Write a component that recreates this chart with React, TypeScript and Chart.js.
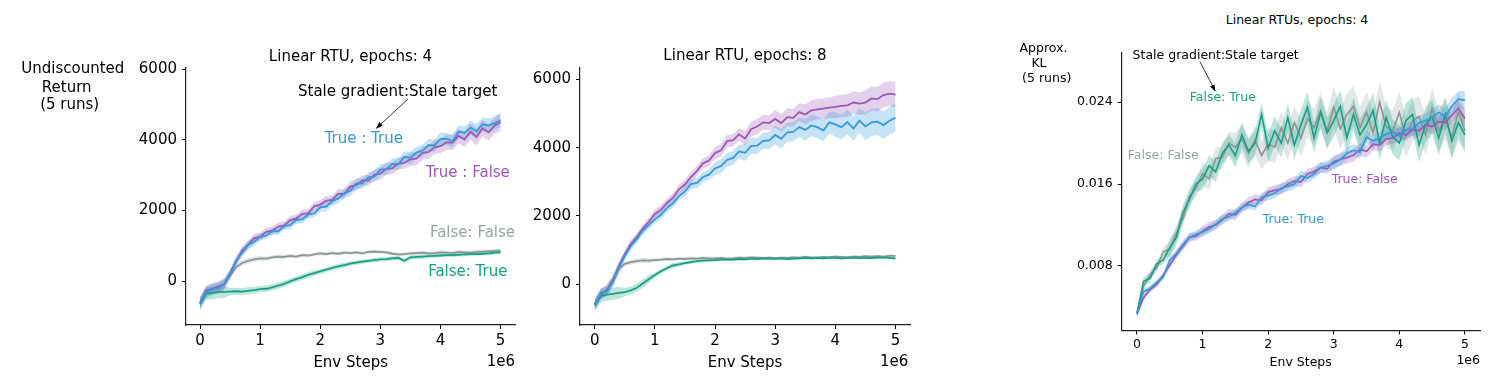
import React, { useEffect, useRef } from "react";
import { Chart, registerables } from "chart.js";
Chart.register(...registerables);

// x positions in millions of env steps
const STEPS_M = [0, 0.1, 0.2, 0.3, 0.4, 0.5, 0.6, 0.7, 0.8, 0.9, 1.0, 1.1, 1.2, 1.3, 1.4, 1.5, 1.6, 1.7, 1.8, 1.9, 2.0, 2.1, 2.2, 2.3, 2.4, 2.5, 2.6, 2.7, 2.8, 2.9, 3.0, 3.1, 3.2, 3.3, 3.4, 3.5, 3.6, 3.7, 3.8, 3.9, 4.0, 4.1, 4.2, 4.3, 4.4, 4.5, 4.6, 4.7, 4.8, 4.9, 5.0];
const X_TICKS = [0, 1, 2, 3, 4, 5];

// ---- Panel 1: Linear RTU, epochs: 4 (undiscounted return)
const P1_TT = [-600, -320, -200, -200, -60, 180, 580, 800, 1030, 1120, 1260, 1290, 1420, 1410, 1560, 1590, 1740, 1750, 1890, 1920, 2090, 2110, 2270, 2340, 2490, 2560, 2760, 2770, 2940, 2960, 3160, 3170, 3320, 3310, 3520, 3490, 3640, 3690, 3850, 3840, 4020, 4030, 3960, 4230, 4200, 4340, 4240, 4440, 4400, 4470, 4560];
const P1_TF = [-620, -260, -220, -150, -80, 240, 560, 870, 1030, 1220, 1260, 1400, 1430, 1550, 1580, 1730, 1770, 1910, 1920, 2120, 2170, 2280, 2300, 2480, 2470, 2680, 2720, 2850, 2850, 3010, 3050, 3180, 3200, 3330, 3350, 3450, 3470, 3630, 3650, 3790, 3820, 3930, 3920, 4110, 4010, 4230, 4080, 4330, 4210, 4400, 4500];
const P1_FF = [-620, -350, -250, -200, -100, 150, 400, 520, 580, 620, 650, 640, 680, 700, 690, 720, 700, 740, 730, 760, 790, 770, 800, 780, 810, 800, 820, 790, 830, 840, 830, 820, 780, 760, 770, 790, 800, 810, 790, 800, 820, 810, 800, 830, 820, 810, 830, 840, 850, 860, 870];
const P1_FT = [-640, -350, -330, -300, -300, -290, -280, -290, -270, -250, -220, -210, -170, -120, -70, 0, 60, 120, 180, 230, 280, 330, 380, 420, 460, 500, 530, 560, 580, 600, 620, 630, 650, 660, 580, 680, 690, 700, 710, 720, 730, 740, 740, 750, 760, 770, 770, 780, 790, 810, 820];
const P1_TT_SD = [150, 120, 100, 110, 130, 150, 160, 170, 180, 200, 200];
const P1_TF_SD = [150, 120, 110, 120, 130, 150, 170, 190, 210, 230, 250];
const P1_FF_SD = [150, 80, 60, 50, 50, 50, 50, 50, 50, 50, 50];
const P1_FT_SD = [180, 100, 90, 80, 70, 60, 60, 60, 50, 50, 50];
const P1_Y_TICKS = [0, 2000, 4000, 6000];

// ---- Panel 2: Linear RTU, epochs: 8
const P2_TF = [-600, -300, -180, 80, 520, 880, 1180, 1380, 1630, 1830, 2060, 2180, 2380, 2530, 2780, 2920, 3140, 3320, 3540, 3620, 3840, 3920, 4190, 4220, 4390, 4270, 4540, 4620, 4740, 4720, 4840, 4720, 4890, 4870, 5040, 4970, 5090, 5120, 5140, 5170, 5190, 5220, 5240, 5320, 5290, 5320, 5440, 5420, 5540, 5580, 5550];
const P2_TT = [-600, -260, -210, 60, 470, 830, 1120, 1330, 1570, 1730, 1900, 2030, 2230, 2370, 2580, 2720, 2930, 2970, 3140, 3210, 3390, 3460, 3640, 3700, 3890, 3850, 4050, 4060, 4200, 4210, 4370, 4260, 4450, 4460, 4600, 4520, 4650, 4600, 4500, 4740, 4680, 4600, 4750, 4560, 4790, 4620, 4740, 4760, 4660, 4790, 4880];
const P2_FF = [-600, -300, -150, 150, 450, 600, 650, 680, 700, 690, 710, 720, 740, 730, 750, 740, 760, 750, 770, 760, 760, 770, 750, 760, 780, 770, 790, 780, 770, 780, 760, 780, 770, 790, 780, 800, 790, 780, 800, 790, 810, 800, 790, 810, 800, 820, 810, 820, 810, 830, 830];
const P2_FT = [-620, -350, -300, -280, -250, -230, -180, -100, 20, 150, 270, 380, 470, 550, 580, 620, 650, 680, 690, 700, 710, 720, 730, 720, 740, 730, 750, 740, 760, 750, 750, 760, 740, 750, 760, 770, 760, 770, 760, 780, 770, 760, 770, 780, 770, 780, 770, 780, 790, 770, 760];
const P2_TF_SD = [150, 120, 130, 150, 180, 220, 260, 300, 330, 360, 380];
const P2_TT_SD = [150, 120, 130, 150, 200, 240, 280, 320, 360, 400, 420];
const P2_FF_SD = [150, 70, 50, 50, 40, 40, 40, 40, 40, 40, 40];
const P2_FT_SD = [180, 120, 70, 50, 40, 40, 40, 40, 40, 40, 40];
const P2_Y_TICKS = [0, 2000, 4000, 6000];

// ---- Panel 3: Linear RTUs, epochs: 4 (approx. KL)
const P3_FT = [0.0034, 0.0065, 0.0068, 0.0082, 0.0086, 0.0098, 0.0108, 0.0132, 0.0145, 0.0160, 0.0165, 0.0178, 0.0172, 0.0190, 0.0198, 0.0188, 0.0208, 0.0192, 0.0200, 0.0228, 0.0195, 0.0212, 0.0200, 0.0225, 0.0198, 0.0218, 0.0235, 0.0205, 0.0230, 0.0210, 0.0222, 0.0236, 0.0205, 0.0228, 0.0208, 0.0218, 0.0232, 0.0200, 0.0225, 0.0206, 0.0200, 0.0222, 0.0228, 0.0198, 0.0218, 0.0226, 0.0205, 0.0228, 0.0202, 0.0220, 0.0208];
const P3_FF = [0.0034, 0.0060, 0.0072, 0.0078, 0.0094, 0.0096, 0.0112, 0.0126, 0.0148, 0.0156, 0.0170, 0.0165, 0.0185, 0.0186, 0.0200, 0.0196, 0.0204, 0.0190, 0.0203, 0.0188, 0.0199, 0.0196, 0.0215, 0.0200, 0.0220, 0.0205, 0.0224, 0.0215, 0.0232, 0.0212, 0.0235, 0.0214, 0.0228, 0.0236, 0.0215, 0.0230, 0.0210, 0.0240, 0.0216, 0.0212, 0.0230, 0.0206, 0.0222, 0.0226, 0.0208, 0.0234, 0.0212, 0.0224, 0.0206, 0.0230, 0.0212];
const P3_TT = [0.0033, 0.0055, 0.0058, 0.0064, 0.0069, 0.0086, 0.0092, 0.0101, 0.0108, 0.0111, 0.0113, 0.0116, 0.0121, 0.0126, 0.0128, 0.0132, 0.0137, 0.0140, 0.0138, 0.0147, 0.0149, 0.0151, 0.0156, 0.0158, 0.0160, 0.0168, 0.0166, 0.0170, 0.0176, 0.0178, 0.0180, 0.0184, 0.0190, 0.0193, 0.0191, 0.0206, 0.0202, 0.0205, 0.0209, 0.0211, 0.0207, 0.0213, 0.0214, 0.0220, 0.0222, 0.0225, 0.0230, 0.0226, 0.0236, 0.0243, 0.0242];
const P3_TF = [0.0033, 0.0049, 0.0057, 0.0062, 0.0071, 0.0081, 0.0091, 0.0099, 0.0108, 0.0109, 0.0114, 0.0118, 0.0120, 0.0125, 0.0131, 0.0130, 0.0137, 0.0142, 0.0145, 0.0144, 0.0152, 0.0154, 0.0155, 0.0160, 0.0163, 0.0162, 0.0170, 0.0172, 0.0176, 0.0175, 0.0182, 0.0184, 0.0186, 0.0188, 0.0194, 0.0192, 0.0199, 0.0198, 0.0204, 0.0205, 0.0210, 0.0208, 0.0213, 0.0212, 0.0218, 0.0216, 0.0221, 0.0220, 0.0227, 0.0234, 0.0224];
const P3_TT_SD = [0.0003, 0.0004, 0.0004, 0.0004, 0.0005, 0.0005, 0.0006, 0.0006, 0.0007, 0.0008, 0.0009];
const P3_TF_SD = [0.0003, 0.0004, 0.0005, 0.0005, 0.0005, 0.0005, 0.0006, 0.0006, 0.0006, 0.0007, 0.0008];
const P3_FF_SD = [0.0004, 0.0008, 0.0011, 0.0014, 0.0016, 0.0018, 0.0020, 0.0020, 0.0020, 0.0020, 0.0020];
const P3_FT_SD = [0.0004, 0.0008, 0.0010, 0.0012, 0.0014, 0.0015, 0.0016, 0.0017, 0.0017, 0.0017, 0.0017];
const P3_Y_TICKS = [0.008, 0.016, 0.024];

const C_TT = "#3498db";
const C_TF = "#9b59b6";
const C_FF = "#95a5a6";
const C_FT = "#16a085";
const L_FF = "#8e9595";
const FONT = "'DejaVu Sans', sans-serif";

function rgba(hex: string, a: number) {
  const n = parseInt(hex.slice(1), 16);
  return `rgba(${(n >> 16) & 255},${(n >> 8) & 255},${n & 255},${a})`;
}

type Series = { mean: number[]; sd: number[]; color: string; line: string };

type PanelSpec = {
  left: number; top: number; width: number; height: number;
  yWidth: number; xHeight: number; padTop: number; padRight: number;
  xMin: number; xMax: number; yMin: number; yMax: number;
  yTicks: number[]; fmt: (v: number) => string; fontSize: number; lineWidth: number;
  series: Series[];
};

function buildDatasets(series: Series[], lw: number) {
  const ds: any[] = [];
  series.forEach((s) => {
    ds.push({
      data: STEPS_M.map((x, i) => ({ x, y: s.mean[i] })),
      borderColor: s.line, borderWidth: lw, pointRadius: 0, fill: false, tension: 0,
    });
  });
  series.forEach((s) => {
    ds.push({
      data: STEPS_M.map((x, i) => ({ x, y: s.mean[i] + s.sd[Math.floor(i / 5)] })),
      borderWidth: 0, pointRadius: 0, fill: "+1", backgroundColor: rgba(s.color, 0.28),
    });
    ds.push({
      data: STEPS_M.map((x, i) => ({ x, y: s.mean[i] - s.sd[Math.floor(i / 5)] })),
      borderWidth: 0, pointRadius: 0, fill: false,
    });
  });
  return ds;
}

function Panel({ spec }: { spec: PanelSpec }) {
  const ref = useRef<HTMLCanvasElement>(null);
  useEffect(() => {
    const axisCommon = {
      grid: { display: true, drawOnChartArea: false, drawTicks: true, tickLength: 4, tickColor: "#000", tickWidth: 1 },
      border: { display: true, color: "#222", width: 1.2 },
    };
    const chart = new Chart(ref.current!, {
      type: "line",
      data: { datasets: buildDatasets(spec.series, spec.lineWidth) },
      options: {
        animation: false,
        responsive: false,
        maintainAspectRatio: false,
        layout: { padding: { top: spec.padTop, right: spec.padRight, left: 0, bottom: 0 } },
        plugins: { legend: { display: false }, tooltip: { enabled: false }, title: { display: false } },
        scales: {
          x: {
            type: "linear", min: spec.xMin, max: spec.xMax,
            ...axisCommon,
            afterBuildTicks: (s: any) => { s.ticks = X_TICKS.map((v) => ({ value: v })); },
            afterFit: (s: any) => { s.height = spec.xHeight; },
            ticks: { color: "#000", font: { family: FONT, size: spec.fontSize }, padding: 3, maxRotation: 0, autoSkip: false, callback: (v: any) => String(v) },
          },
          y: {
            type: "linear", min: spec.yMin, max: spec.yMax,
            ...axisCommon,
            afterBuildTicks: (s: any) => { s.ticks = spec.yTicks.map((v) => ({ value: v })); },
            afterFit: (s: any) => { s.width = spec.yWidth; },
            ticks: { color: "#000", font: { family: FONT, size: spec.fontSize }, padding: 5, autoSkip: false, callback: (v: any) => spec.fmt(Number(v)) },
          },
        },
      } as any,
    });
    return () => chart.destroy();
  }, []);
  return (
    <canvas ref={ref} width={spec.width} height={spec.height}
      style={{ position: "absolute", left: spec.left, top: spec.top, width: spec.width, height: spec.height }} />
  );
}

function T({ x, y, text, size, color = "#000", align = "center" }: { x: number; y: number; text: string; size: number; color?: string; align?: string }) {
  const tx = align === "center" ? "-50%" : align === "right" ? "-100%" : "0";
  return (
    <div style={{ position: "absolute", left: x, top: y, transform: `translate(${tx},-50%)`, fontFamily: FONT, fontSize: size, color, whiteSpace: "nowrap", lineHeight: 1 }}>
      {text}
    </div>
  );
}

const intFmt = (v: number) => String(Math.round(v));
const klFmt = (v: number) => v.toFixed(3);

const PANELS: PanelSpec[] = [
  {
    left: 100, top: 50, width: 430, height: 310, yWidth: 86, xHeight: 35, padTop: 18, padRight: 15,
    xMin: -0.233, xMax: 5.24, yMin: -1234, yMax: 6030, yTicks: P1_Y_TICKS, fmt: intFmt, fontSize: 15, lineWidth: 1.8,
    series: [
      { mean: P1_TT, sd: P1_TT_SD, color: C_TT, line: C_TT },
      { mean: P1_TF, sd: P1_TF_SD, color: C_TF, line: C_TF },
      { mean: P1_FT, sd: P1_FT_SD, color: C_FT, line: C_FT },
      { mean: P1_FF, sd: P1_FF_SD, color: C_FF, line: L_FF },
    ],
  },
  {
    left: 530, top: 50, width: 395, height: 310, yWidth: 50, xHeight: 35, padTop: 18, padRight: 15,
    xMin: -0.244, xMax: 5.24, yMin: -1192, yMax: 6331, yTicks: P2_Y_TICKS, fmt: intFmt, fontSize: 15, lineWidth: 1.8,
    series: [
      { mean: P2_TT, sd: P2_TT_SD, color: C_TT, line: C_TT },
      { mean: P2_TF, sd: P2_TF_SD, color: C_TF, line: C_TF },
      { mean: P2_FT, sd: P2_FT_SD, color: C_FT, line: C_FT },
      { mean: P2_FF, sd: P2_FF_SD, color: C_FF, line: L_FF },
    ],
  },
  {
    left: 1060, top: 40, width: 434, height: 320, yWidth: 61.7, xHeight: 29.7, padTop: 8.3, padRight: 14,
    xMin: -0.233, xMax: 5.23, yMin: 0.00172, yMax: 0.02885, yTicks: P3_Y_TICKS, fmt: klFmt, fontSize: 12.5, lineWidth: 1.6,
    series: [
      { mean: P3_TT, sd: P3_TT_SD, color: C_TT, line: C_TT },
      { mean: P3_TF, sd: P3_TF_SD, color: C_TF, line: C_TF },
      { mean: P3_FT, sd: P3_FT_SD, color: C_FT, line: C_FT },
      { mean: P3_FF, sd: P3_FF_SD, color: C_FF, line: L_FF },
    ],
  },
];

export default function App() {
  return (
    <div style={{ position: "absolute", left: 0, top: 0, width: 1494, height: 391, background: "#fff", overflow: "hidden" }}>
      {PANELS.map((p, i) => <Panel key={i} spec={p} />)}

      {/* Panel 1 text */}
      <T x={350.5} y={55.7} text="Linear RTU, epochs: 4" size={15} />
      <T x={72.8} y={68} text="Undiscounted" size={15} />
      <T x={66.7} y={87.3} text="Return" size={15} />
      <T x={69.7} y={104} text="(5 runs)" size={15} />
      <T x={397.7} y={90.7} text="Stale gradient:Stale target" size={15} />
      <T x={363.8} y={138} text="True : True" size={15} color={C_TT} />
      <T x={467.8} y={171.7} text="True : False" size={15} color={C_TF} />
      <T x={472.5} y={232} text="False: False" size={15} color={C_FF} />
      <T x={467.8} y={271} text="False: True" size={15} color={C_FT} />
      <T x={350.7} y={361.7} text="Env Steps" size={15} />
      <T x={515} y={361} text="1e6" size={15} align="right" />

      {/* Panel 2 text */}
      <T x={745} y={55} text="Linear RTU, epochs: 8" size={15} />
      <T x={745} y={361.7} text="Env Steps" size={15} />
      <T x={908.3} y={361} text="1e6" size={15} align="right" />

      {/* Panel 3 text */}
      <T x={1297} y={20} text="Linear RTUs, epochs: 4" size={12.5} />
      <T x={1043.5} y={47.7} text="Approx." size={12.5} />
      <T x={1039} y={62.7} text="KL" size={12.5} />
      <T x={1046.7} y={77.7} text="(5 runs)" size={12.5} />
      <T x={1215.7} y={55} text="Stale gradient:Stale target" size={12.5} />
      <T x={1222.8} y={96.7} text="False: True" size={12.5} color={C_FT} />
      <T x={1163.3} y={155} text="False: False" size={12.5} color={C_FF} />
      <T x={1364.7} y={179} text="True: False" size={12.5} color={C_TF} />
      <T x={1293.3} y={219} text="True: True" size={12.5} color={C_TT} />
      <T x={1300.7} y={361.7} text="Env Steps" size={12.5} />
      <T x={1480} y={360} text="1e6" size={12.5} align="right" />

      <svg width={1494} height={391} style={{ position: "absolute", left: 0, top: 0, pointerEvents: "none" }}>
        <defs>
          <marker id="ah" markerWidth="7" markerHeight="5" refX="6" refY="2.5" orient="auto" markerUnits="userSpaceOnUse">
            <path d="M0,0 L7,2.5 L0,5 z" fill="#000" />
          </marker>
        </defs>
        <line x1={408} y1={99} x2={376.7} y2={128} stroke="#000" strokeWidth={0.8} markerEnd="url(#ah)" />
        <line x1={1200} y1={61.7} x2={1215} y2={90.7} stroke="#000" strokeWidth={0.8} markerEnd="url(#ah)" />
      </svg>
    </div>
  );
}
